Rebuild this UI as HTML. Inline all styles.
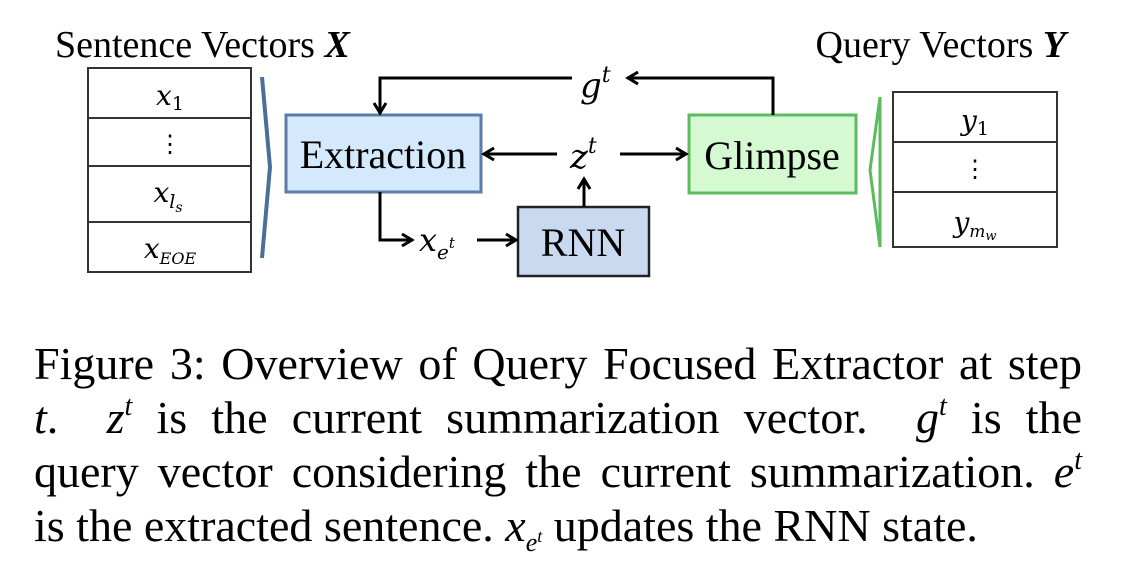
<!DOCTYPE html>
<html><head><meta charset="utf-8"><style>
body{margin:0;width:1132px;height:570px;background:#fff;overflow:hidden;position:relative;font-family:"Liberation Serif",serif;}
.cap{position:absolute;left:34px;width:1048px;font-size:46px;line-height:54px;text-align:justify;text-align-last:justify;white-space:nowrap;color:#000;}
.cap.last{text-align-last:left;}
i{font-style:italic}
sup{font-size:28px;vertical-align:0;position:relative;top:-18px}
</style></head><body>
<svg width="1132" height="320" style="position:absolute;left:0;top:0" font-family="Liberation Serif, serif">
<defs><marker id="a" markerWidth="16" markerHeight="16" refX="12" refY="8" orient="auto" markerUnits="userSpaceOnUse"><path d="M2,2 L12,8 L2,14" fill="none" stroke="#000" stroke-width="3"/></marker></defs>
<text x="55" y="57" font-size="38">Sentence Vectors <tspan font-weight="bold" font-style="italic">X</tspan></text>
<text x="1066" y="57" font-size="38" text-anchor="end">Query Vectors <tspan font-weight="bold" font-style="italic">Y</tspan></text>
<g fill="#fff" stroke="#333" stroke-width="2">
<rect x="88" y="68" width="163" height="204"/>
<line x1="88" y1="118" x2="251" y2="118"/><line x1="88" y1="166" x2="251" y2="166"/><line x1="88" y1="222" x2="251" y2="222"/>
<rect x="893" y="92" width="164" height="155"/>
<line x1="893" y1="142" x2="1057" y2="142"/><line x1="893" y1="192" x2="1057" y2="192"/>
</g>
<g font-style="italic" text-anchor="middle" font-family="DejaVu Serif, serif">
<text x="170" y="105" font-size="28">x<tspan font-size="19" dy="5" font-style="normal">1</tspan></text>
<text x="170" y="152" font-style="normal" font-size="24">⋮</text>
<text x="168" y="202" font-size="28">x<tspan font-size="19" dy="6">l</tspan><tspan font-size="14" dy="4">s</tspan></text>
<text x="170" y="258" font-size="28">x<tspan font-size="16" dy="6">EOE</tspan></text>
<text x="975" y="130" font-size="28">y<tspan font-size="19" dy="5" font-style="normal">1</tspan></text>
<text x="975" y="177" font-style="normal" font-size="24">⋮</text>
<text x="975" y="232" font-size="28">y<tspan font-size="17" dy="5">m</tspan><tspan font-size="13" dy="3">w</tspan></text>
</g>
<path d="M262,77 L270,167 L262,258" fill="none" stroke="#4a6f99" stroke-width="4"/>
<path d="M880,97 L870,170 L880,247 Z" fill="none" stroke="#5cbb5c" stroke-width="3"/>
<rect x="286" y="115" width="195" height="77" fill="#d4e9fb" stroke="#5a7ea8" stroke-width="3"/>
<text x="383" y="168" font-size="40" text-anchor="middle">Extraction</text>
<rect x="689" y="115" width="167" height="78" fill="#d5f9d0" stroke="#5cbb5c" stroke-width="3"/>
<text x="772" y="169" font-size="40" text-anchor="middle">Glimpse</text>
<rect x="518" y="207" width="131" height="69" fill="#c9d9ef" stroke="#222" stroke-width="2.5"/>
<text x="583" y="256" font-size="40" text-anchor="middle">RNN</text>
<g stroke="#000" stroke-width="3" fill="none">
<polyline points="572,78 380,78 380,113" marker-end="url(#a)"/>
<polyline points="773,115 773,78 628,78" marker-end="url(#a)"/>
<line x1="557" y1="154" x2="484" y2="154" marker-end="url(#a)"/>
<line x1="620" y1="154" x2="686" y2="154" marker-end="url(#a)"/>
<line x1="584" y1="207" x2="584" y2="179" marker-end="url(#a)"/>
<polyline points="380,192 380,240 412,240" marker-end="url(#a)"/>
<line x1="477" y1="240" x2="516" y2="240" marker-end="url(#a)"/>
</g>
<g font-style="italic" font-family="DejaVu Serif, serif">
<text x="580" y="97" font-size="34">g<tspan font-size="22" dy="-15">t</tspan></text>
<text x="570" y="168" font-size="34">z<tspan font-size="22" dy="-15">t</tspan></text>
<text x="419" y="251" font-size="32">x<tspan font-size="20" dy="8">e</tspan><tspan font-size="15" dy="-11">t</tspan></text>
</g>
</svg>
<div class="cap" style="top:337px">Figure 3: Overview of Query Focused Extractor at step</div>
<div class="cap" style="top:391px"><i>t</i>. &nbsp;<i>z</i><sup><i>t</i></sup> is the current summarization vector. &nbsp;<i>g</i><sup><i>t</i></sup> is the</div>
<div class="cap" style="top:445px">query vector considering the current summarization. <i>e</i><sup><i>t</i></sup></div>
<div class="cap last" style="top:499px">is the extracted sentence. <i>x</i><sub style="font-size:26px"><i>e</i><sup style="font-size:18px;top:-9px"><i>t</i></sup></sub> updates the RNN state.</div>
</body></html>
